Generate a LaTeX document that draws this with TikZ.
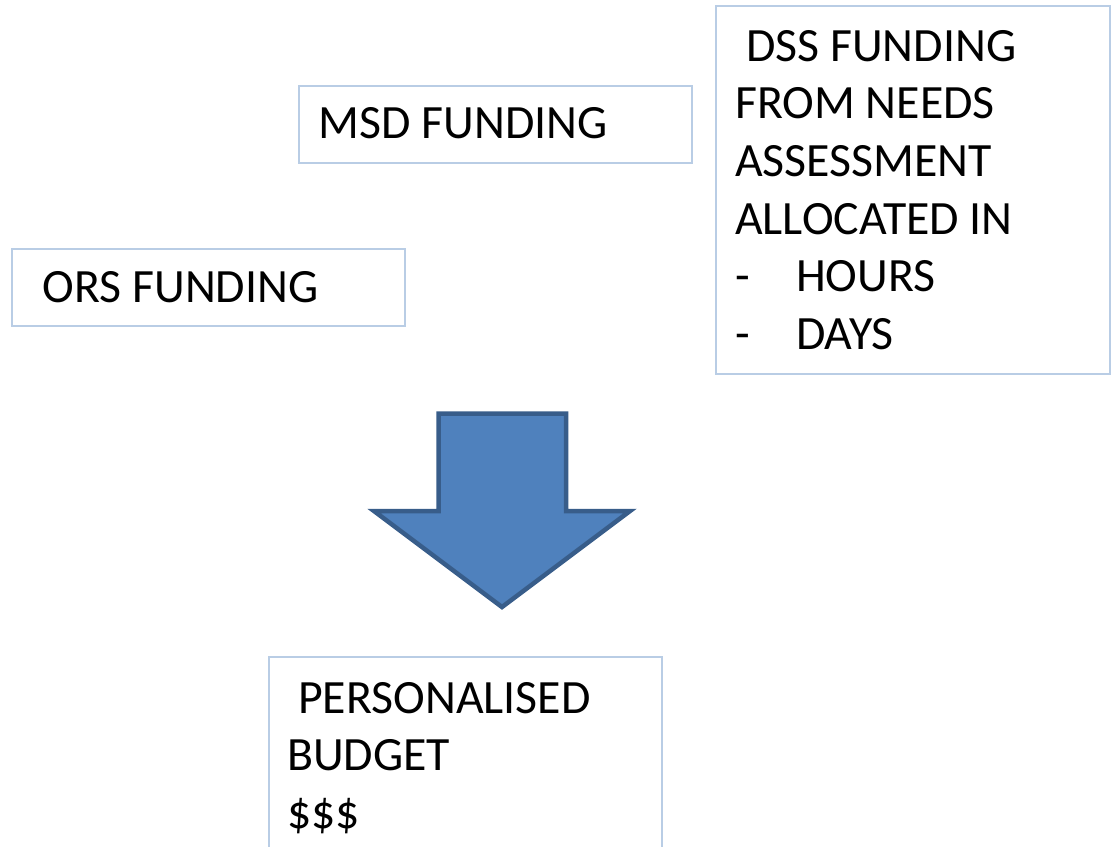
\documentclass[tikz,border=0pt]{standalone}
\usepackage{fontspec}
\setmainfont{Carlito}
\definecolor{boxline}{HTML}{B9CDE5}
\definecolor{arrowfill}{HTML}{4F81BD}
\definecolor{arrowline}{HTML}{385D8A}
\begin{document}
\begin{tikzpicture}[x=1pt,y=-1pt,
  fundbox/.style={draw=boxline,line width=2pt,fill=white,anchor=north west,inner sep=0pt,rectangle},
  fundtext/.style={anchor=north west,inner sep=0pt,align=left,font=\fontsize{47.8}{57.6}\selectfont,text=black}]
\useasboundingbox (0,0) rectangle (1111,846);
\fill[white] (0,0) rectangle (1111,846);
% boxes
\node[fundbox,minimum width=393pt,minimum height=77pt] (msdbox) at (298,85) {};
\node[fundbox,minimum width=393pt,minimum height=77pt] (orsbox) at (11,248) {};
\node[fundbox,minimum width=394pt,minimum height=368pt] (dssbox) at (715,5) {};
\node[fundbox,minimum width=393pt,minimum height=230pt] (pbbox) at (268,656) {};
% texts
\node[fundtext] (msdtext) at (318.5,107) {MSD FUNDING};
\node[fundtext] (orstext) at (42.5,271) {ORS FUNDING};
\node[fundtext] (dsstext) at (735,30) {\hspace*{11pt}DSS FUNDING\\FROM NEEDS\\ASSESSMENT\\ALLOCATED IN\\\makebox[61pt][l]{-}HOURS\\\makebox[61pt][l]{-}DAYS};
\node[fundtext] (pbtext) at (287,682) {\hspace*{11pt}PERSONALISED\\BUDGET\\\$\$\$};
% block arrow
\draw[fill=arrowfill,draw=arrowline,line width=4.5pt,line join=miter]
  (438.5,413.5) -- (566,413.5) -- (566,511) -- (630,511) -- (502,607) -- (374,511) -- (438.5,511) -- cycle;
\end{tikzpicture}
\end{document}
